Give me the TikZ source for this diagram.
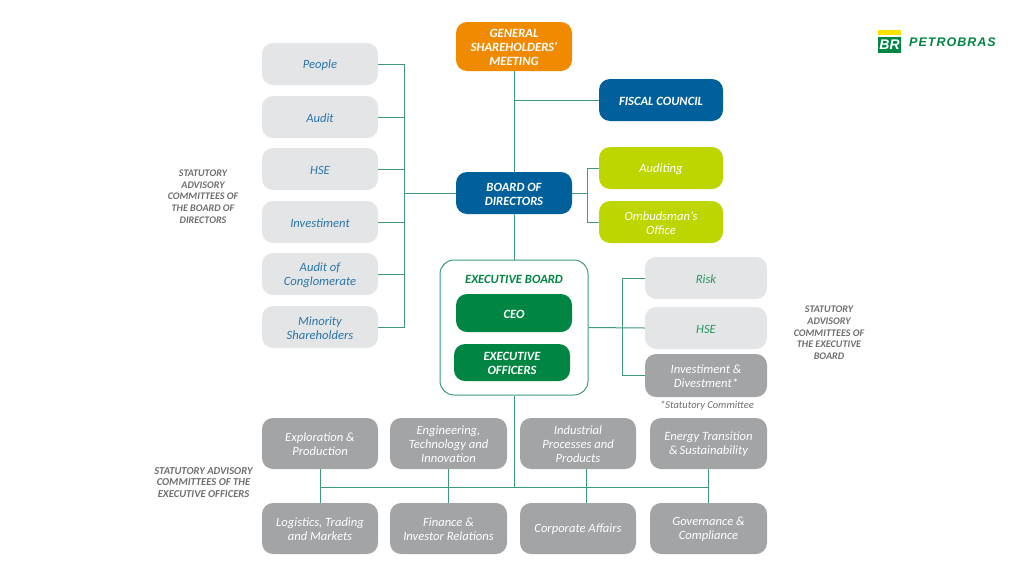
\documentclass[tikz,border=0pt]{standalone}
\usepackage{fontspec}
\setmainfont{Carlito}
\newfontfamily\logofont{Liberation Sans}
\newcommand{\fl}{\rule{0pt}{10.5pt}}
\definecolor{lgray}{HTML}{E3E5E7}
\definecolor{mgray}{HTML}{A2A4A6}
\definecolor{pgreen}{HTML}{008542}
\definecolor{lineg}{HTML}{3E9A78}
\definecolor{pblue}{HTML}{00609C}
\definecolor{plime}{HTML}{BED600}
\definecolor{porange}{HTML}{F08A00}
\definecolor{ptext}{HTML}{2A76A8}
\definecolor{gtext}{HTML}{6D6E70}
\tikzset{
  x=1pt,y=-1pt,
  box/.style={rounded corners=11pt,inner sep=0pt,align=center,font=\fontsize{12.6}{14}\selectfont\itshape},
  caps/.style={box,font=\fontsize{12.6}{14}\selectfont\bfseries\itshape,text=white},
  lightblue/.style={box,fill=lgray,text=ptext},
  lightgreen/.style={box,fill=lgray,text=pgreen!85!white},
  greybox/.style={box,fill=mgray,text=white},
  limebox/.style={box,fill=plime,text=white},
  orangebox/.style={caps,fill=porange},
  bluebox/.style={caps,fill=pblue},
  greenbox/.style={caps,fill=pgreen},
  link/.style={draw=lineg,line width=1pt},
  sidenote/.style={inner sep=0pt,align=center,text=gtext,font=\fontsize{10.1}{11.7}\selectfont\bfseries\itshape},
  widenote/.style={sidenote,font=\fontsize{10.6}{11.7}\selectfont\bfseries\itshape}
}
\begin{document}
\begin{tikzpicture}
\useasboundingbox (0,0) rectangle (1024,576);
\coordinate (leftbus) at (404,193);
\coordinate (rightbus) at (587,193);
\coordinate (execbus) at (622,327);
\coordinate (lowjoin) at (514,487);
% outline
\node[draw=lineg,line width=1pt,fill=white,rounded corners=14pt,minimum width=148pt,minimum height=135pt,inner sep=0pt] (execboard) at (514,327.5) {};
\node[text=pgreen,inner sep=0pt,font=\fontsize{12.6}{14}\selectfont\bfseries\itshape] (execlabel) at (514,279.5) {EXECUTIVE BOARD};
% left column
\node[lightblue,minimum width=116pt,minimum height=42pt] (people) at (320,64) {\fl People};
\node[lightblue,minimum width=116pt,minimum height=42pt] (audit) at (320,117) {\fl Audit};
\node[lightblue,minimum width=116pt,minimum height=42pt] (hse) at (320,169) {\fl HSE};
\node[lightblue,minimum width=116pt,minimum height=42pt] (invest) at (320,222) {\fl Investiment};
\node[lightblue,minimum width=116pt,minimum height=42pt] (conglo) at (320,274) {\fl Audit of\\Conglomerate};
\node[lightblue,minimum width=116pt,minimum height=42pt] (minority) at (320,327) {\fl Minority\\Shareholders};
% centre
\node[orangebox,minimum width=116pt,minimum height=49pt] (gsm) at (514,46.5) {\fl GENERAL\\SHAREHOLDERS’\\MEETING};
\node[bluebox,minimum width=124pt,minimum height=42pt] (fiscal) at (661,100) {\fl FISCAL COUNCIL};
\node[bluebox,minimum width=116pt,minimum height=42pt] (board) at (514,193) {\fl BOARD OF\\DIRECTORS};
\node[limebox,minimum width=124pt,minimum height=42pt] (auditing) at (661,168) {\fl Auditing};
\node[limebox,minimum width=124pt,minimum height=42pt] (ombud) at (661,222) {\fl Ombudsman’s\\Office};
\node[greenbox,minimum width=116pt,minimum height=38pt] (ceo) at (514,313) {\fl CEO};
\node[greenbox,minimum width=116pt,minimum height=37pt] (officers) at (512,362.5) {\fl EXECUTIVE\\OFFICERS};
% right column
\node[lightgreen,minimum width=122pt,minimum height=42pt] (risk) at (706,278) {\fl Risk};
\node[lightgreen,minimum width=122pt,minimum height=42pt] (hsetwo) at (706,328) {\fl HSE};
\node[greybox,minimum width=122pt,minimum height=43pt] (divest) at (706,375.5) {\fl Investiment \&\\Divestment*};
\node[inner sep=0pt,text=gtext,font=\fontsize{10.5}{12}\selectfont\itshape] (statnote) at (707,406) {*Statutory Committee};
% bottom rows
\node[greybox,minimum width=116pt,minimum height=51pt] (explor) at (320,443.5) {\fl Exploration \&\\Production};
\node[greybox,minimum width=117pt,minimum height=51pt] (engin) at (448.5,443.5) {\fl Engineering,\\Technology and\\Innovation};
\node[greybox,minimum width=116pt,minimum height=51pt] (indus) at (578,443.5) {\fl Industrial\\Processes and\\Products};
\node[greybox,minimum width=117pt,minimum height=51pt] (energy) at (708.5,443.5) {\fl Energy Transition\\\&\,Sustainability};
\node[greybox,minimum width=116pt,minimum height=51pt] (logist) at (320,528.5) {\fl Logistics, Trading\\and Markets};
\node[greybox,minimum width=117pt,minimum height=51pt] (finance) at (448.5,528.5) {\fl Finance \&\\Investor Relations};
\node[greybox,minimum width=116pt,minimum height=51pt] (corp) at (578,528.5) {\fl Corporate Affairs};
\node[greybox,minimum width=117pt,minimum height=51pt] (gov) at (708.5,528.5) {\fl Governance \&\\Compliance};
% side notes
\node[sidenote] (noteone) at (203,196.5) {STATUTORY\\ADVISORY\\COMMITTEES OF\\THE BOARD OF\\DIRECTORS};
\node[sidenote] (notetwo) at (829,333) {STATUTORY\\ADVISORY\\COMMITTEES OF\\THE EXECUTIVE\\BOARD};
\node[widenote] (notethree) at (203.5,482.5) {STATUTORY ADVISORY\\COMMITTEES OF THE\\EXECUTIVE OFFICERS};
% connectors
\draw[link] (gsm.south) -- (board.north);
\draw[link] (fiscal.west) -- (fiscal.west -| gsm.south);
\draw[link] (board.south) -- (execboard.north);
\draw[link] (board.west) -- (leftbus);
\draw[link] (people.east) -| (leftbus);
\draw[link] (minority.east) -| (leftbus);
\draw[link] (audit.east) -- (audit.east -| leftbus);
\draw[link] (hse.east) -- (hse.east -| leftbus);
\draw[link] (invest.east) -- (invest.east -| leftbus);
\draw[link] (conglo.east) -- (conglo.east -| leftbus);
\draw[link] (board.east) -- (rightbus);
\draw[link] (auditing.west) -| (rightbus);
\draw[link] (ombud.west) -| (rightbus);
\draw[link] (execboard.east) -- (hsetwo.west);
\draw[link] (risk.west) -| (execbus);
\draw[link] (divest.west) -| (execbus);
\draw[link] (execboard.south) -- (lowjoin);
\draw[link] (explor.south) -- (logist.north);
\draw[link] (engin.south) -- (finance.north);
\draw[link] (indus.south -| 586,0) -- (corp.north -| 586,0);
\draw[link] (energy.south) -- (gov.north);
\draw[link] (lowjoin -| explor.south) -- (lowjoin -| energy.south);
% logo
\fill[yellow!85!orange] (878,30) rectangle (901,35);
\node[fill=pgreen,text=white,inner sep=0pt,minimum width=23pt,minimum height=16pt,font=\logofont\fontsize{14}{14}\selectfont\bfseries\itshape] (logobr) at (889.5,45) {BR};
\node[anchor=west,inner sep=0pt,text=pgreen,font=\logofont\fontsize{12.5}{14}\selectfont\bfseries\itshape] (logoname) at (909,42.5) {\addfontfeature{LetterSpace=8}PETROBRAS};
\end{tikzpicture}
\end{document}
